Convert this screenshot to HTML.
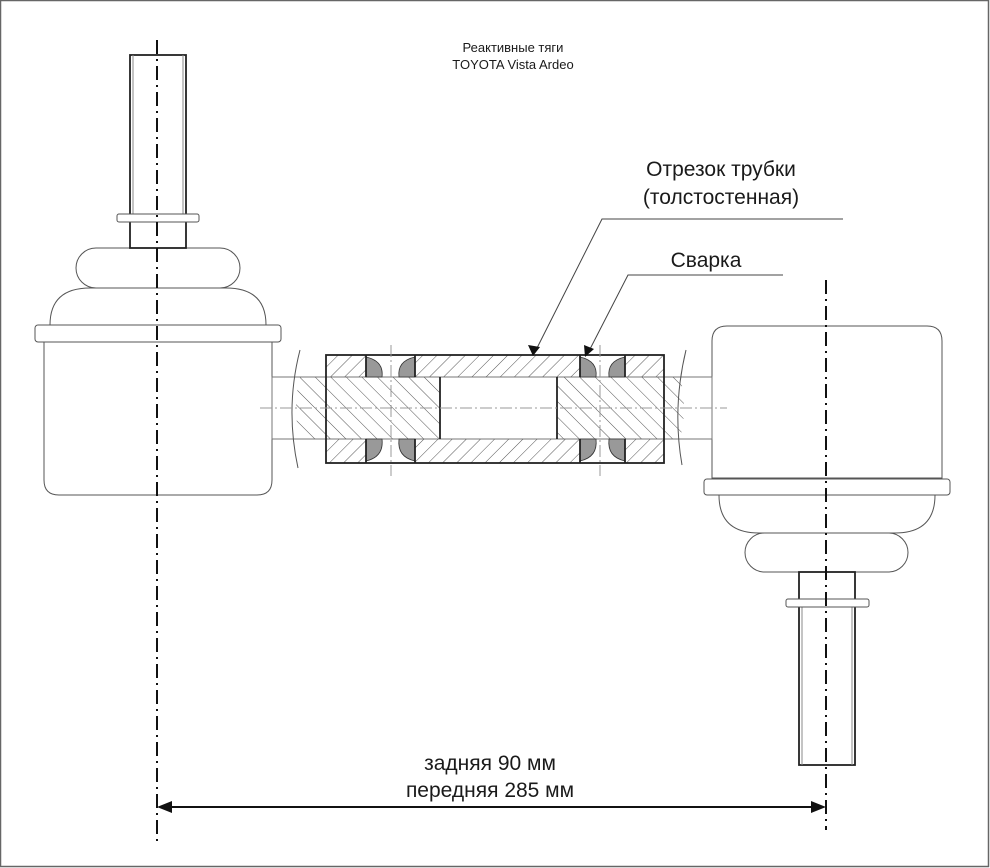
<!DOCTYPE html>
<html><head><meta charset="utf-8"><style>
html,body{margin:0;padding:0;background:#fff}
svg{display:block}
text{font-family:"Liberation Sans",Arial,sans-serif;fill:#1a1a1a}
</style></head><body>
<svg width="990" height="868" viewBox="0 0 990 868" xmlns="http://www.w3.org/2000/svg">
<defs>
<pattern id="hf" patternUnits="userSpaceOnUse" width="10" height="10" patternTransform="rotate(45)">
<line x1="0" y1="0" x2="0" y2="10" stroke="#555" stroke-width="1"/></pattern>
<pattern id="hb" patternUnits="userSpaceOnUse" width="11" height="11" patternTransform="rotate(-45)">
<line x1="0" y1="0" x2="0" y2="11" stroke="#555" stroke-width="1"/></pattern>
</defs>
<rect x="0.5" y="0.5" width="988" height="866" fill="#fff" stroke="#666" stroke-width="1.5"/>

<text x="513" y="52" font-size="13" text-anchor="middle">Реактивные тяги</text>
<text x="513" y="69" font-size="13" text-anchor="middle">TOYOTA Vista Ardeo</text>

<g fill="#fff" stroke="#555" stroke-width="1">
<path d="M44,342 V480 Q44,495 59,495 H257 Q272,495 272,480 V342 Z"/>
<path d="M50,325 Q50,288 90,288 H226 Q266,288 266,325 Z"/>
<rect x="76" y="248" width="164" height="40" rx="20"/>
<rect x="35" y="325" width="246" height="17" rx="3"/>
</g>
<rect x="130" y="55" width="56" height="193" fill="none" stroke="#222" stroke-width="1.8"/>
<line x1="133" y1="55" x2="133" y2="214" stroke="#888" stroke-width="1"/>
<line x1="183" y1="55" x2="183" y2="214" stroke="#888" stroke-width="1"/>
<rect x="117" y="214" width="82" height="8" rx="2" fill="#fff" stroke="#555"/>

<g fill="#fff" stroke="#555" stroke-width="1">
<path d="M712,478 V341 Q712,326 727,326 H927 Q942,326 942,341 V478 Z"/>
<path d="M719,495 Q719,533 759,533 H895 Q935,533 935,495 Z"/>
<rect x="745" y="533" width="163" height="39" rx="19.5"/>
<rect x="704" y="479" width="246" height="16" rx="3"/>
</g>
<rect x="799" y="572" width="56" height="193" fill="none" stroke="#222" stroke-width="1.8"/>
<line x1="802" y1="607" x2="802" y2="765" stroke="#888"/>
<line x1="852" y1="607" x2="852" y2="765" stroke="#888"/>
<rect x="786" y="599" width="83" height="8" rx="2" fill="#fff" stroke="#555"/>

<rect x="272" y="377" width="440" height="62" fill="#fff" stroke="#777" stroke-width="1"/>
<path d="M300,377 Q292,408 300,439 H440 V377 Z" fill="url(#hb)"/>
<path d="M557,377 H680 Q688,408 680,439 H557 Z" fill="url(#hb)"/>
<path d="M300,350 Q285,408 298,468" fill="none" stroke="#555"/>
<path d="M686,350 Q672,408 682,465" fill="none" stroke="#555"/>
<line x1="440" y1="377" x2="440" y2="439" stroke="#222" stroke-width="1.8"/>
<line x1="557" y1="377" x2="557" y2="439" stroke="#222" stroke-width="1.8"/>

<g fill="url(#hf)" stroke="none">
<rect x="326" y="355" width="40" height="22"/><rect x="415" y="355" width="165" height="22"/><rect x="625" y="355" width="39" height="22"/>
<rect x="326" y="439" width="40" height="24"/><rect x="415" y="439" width="165" height="24"/><rect x="625" y="439" width="39" height="24"/>
</g>
<g fill="#999" stroke="#333" stroke-width="0.8">
<path d="M366,357 Q384,361 382,377 H366 Z"/>
<path d="M415,357 Q397,361 399,377 H415 Z"/>
<path d="M580,357 Q598,361 596,377 H580 Z"/>
<path d="M625,357 Q607,361 609,377 H625 Z"/>
<path d="M366,461 Q384,457 382,439 H366 Z"/>
<path d="M415,461 Q397,457 399,439 H415 Z"/>
<path d="M580,461 Q598,457 596,439 H580 Z"/>
<path d="M625,461 Q607,457 609,439 H625 Z"/>
</g>
<g stroke="#222" stroke-width="1.8" fill="none">
<rect x="326" y="355" width="338" height="108"/>
<line x1="366" y1="355" x2="366" y2="377"/><line x1="415" y1="355" x2="415" y2="377"/>
<line x1="580" y1="355" x2="580" y2="377"/><line x1="625" y1="355" x2="625" y2="377"/>
<line x1="366" y1="439" x2="366" y2="463"/><line x1="415" y1="439" x2="415" y2="463"/>
<line x1="580" y1="439" x2="580" y2="463"/><line x1="625" y1="439" x2="625" y2="463"/>
</g>

<g stroke="#999" stroke-width="1" stroke-dasharray="12,3,2,3" fill="none">
<line x1="391" y1="345" x2="391" y2="476"/>
<line x1="600" y1="345" x2="600" y2="476"/>
<line x1="260" y1="408" x2="727" y2="408"/>
</g>
<g stroke="#111" stroke-width="2" stroke-dasharray="14,5,2,5" fill="none">
<line x1="157" y1="40" x2="157" y2="845"/>
<line x1="826" y1="280" x2="826" y2="830"/>
</g>

<g stroke="#444" stroke-width="1" fill="none">
<polyline points="843,219 602,219 536,350"/>
<polyline points="783,275 628,275 589,351"/>
</g>
<path d="M533,356 L528,345 L540,347 Z" fill="#111"/>
<path d="M585,357 L584,345 L594,349 Z" fill="#111"/>
<text x="721" y="176" font-size="21" text-anchor="middle">Отрезок трубки</text>
<text x="721" y="204" font-size="21" text-anchor="middle">(толстостенная)</text>
<text x="706" y="267" font-size="21" text-anchor="middle">Сварка</text>

<line x1="160" y1="807" x2="823" y2="807" stroke="#111" stroke-width="2"/>
<path d="M157,807 L172,801 L172,813 Z" fill="#111"/>
<path d="M826,807 L811,801 L811,813 Z" fill="#111"/>
<text x="490" y="770" font-size="21" text-anchor="middle">задняя 90 мм</text>
<text x="490" y="797" font-size="21" text-anchor="middle">передняя 285 мм</text>
</svg>
</body></html>
